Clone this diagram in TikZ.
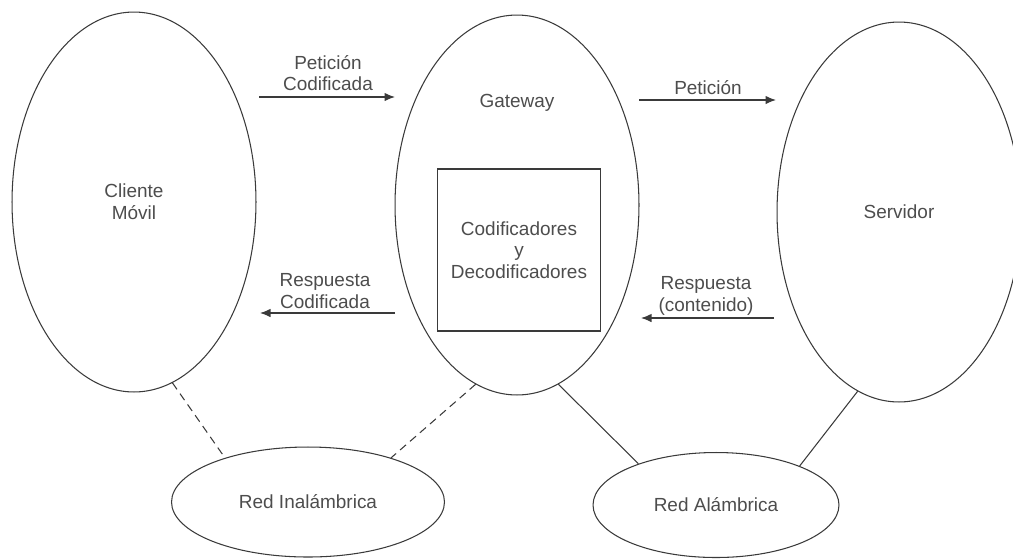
\documentclass[tikz,border=0pt]{standalone}
\usepackage{fontspec}
\setmainfont{Liberation Sans}
\usetikzlibrary{arrows.meta, shapes.geometric}

\definecolor{inkgray}{HTML}{3A3A3A}
\definecolor{textgray}{HTML}{4D4D4D}

\begin{document}
\begin{tikzpicture}[
    x=0.02cm, y=-0.02cm,
    >={Latex[length=2.1mm, width=1.7mm]},
    every node/.style={font=\fontsize{10.8}{12.3}\selectfont, text=textgray},
    bigell/.style={draw=inkgray, ellipse, line width=0.6pt, minimum width=4.88cm, minimum height=7.6cm, inner sep=0pt, align=center},
    netell/.style={draw=inkgray, ellipse, line width=0.6pt, inner sep=0pt},
    codecbox/.style={draw=inkgray, line width=0.6pt, minimum width=3.26cm, minimum height=3.24cm, inner sep=0pt, align=center},
    lbl/.style={align=center},
    arr/.style={->, line width=0.7pt, draw=inkgray},
    wireless/.style={dash pattern=on 4.5pt off 3pt, line width=0.6pt, draw=inkgray},
    wired/.style={line width=0.6pt, draw=inkgray},
]
\useasboundingbox (0,0) rectangle (1013,559);
\clip (0,0) rectangle (1013,559);

% ============ main entities ============
\node[bigell] (cliente) at (134, 202) {Cliente\\Móvil};

\node[bigell] (gateway) at (517, 205) {};
\node[lbl] (gw_txt) at (517, 103) {Gateway};
\node[codecbox] (codec) at (519, 250) {Codificadores\\y\\Decodificadores};

\node[bigell] (servidor) at (899, 212) {Servidor};

% ============ networks ============
\node[netell, minimum width=5.46cm, minimum height=2.2cm] (inalam) at (308, 502) {Red Inalámbrica};
\node[netell, minimum width=4.92cm, minimum height=2.1cm] (alam) at (716, 505) {Red Alámbrica};

% ============ request / response flows ============
\coordinate (pc_a) at (259, 97);
\coordinate (pc_b) at (395, 97);
\coordinate (p_a) at (639, 100);
\coordinate (p_b) at (776, 100);
\coordinate (rc_a) at (395, 313);
\coordinate (rc_b) at (260, 313);
\coordinate (r_a) at (774, 318);
\coordinate (r_b) at (641, 318);

\draw[arr] (pc_a) -- (pc_b);
\draw[arr] (p_a) -- (p_b);
\draw[arr] (rc_a) -- (rc_b);
\draw[arr] (r_a) -- (r_b);

\node[lbl] (pc_txt) at (328, 73) {Petición\\Codificada};
\node[lbl] (p_txt) at (708, 88) {Petición};
\node[lbl] (rc_txt) at (325, 291) {Respuesta\\Codificada};
\node[lbl] (r_txt) at (706, 296) {Respuesta\\(contenido)};

% ============ links to the networks ============
\draw[wireless] (cliente.-78) -- (inalam.152);
\draw[wireless] (gateway.-103) -- (inalam.28);
\draw[wired] (gateway.-77) -- (alam.152);
\draw[wired] (servidor.-103) -- (alam.25);

\end{tikzpicture}
\end{document}
